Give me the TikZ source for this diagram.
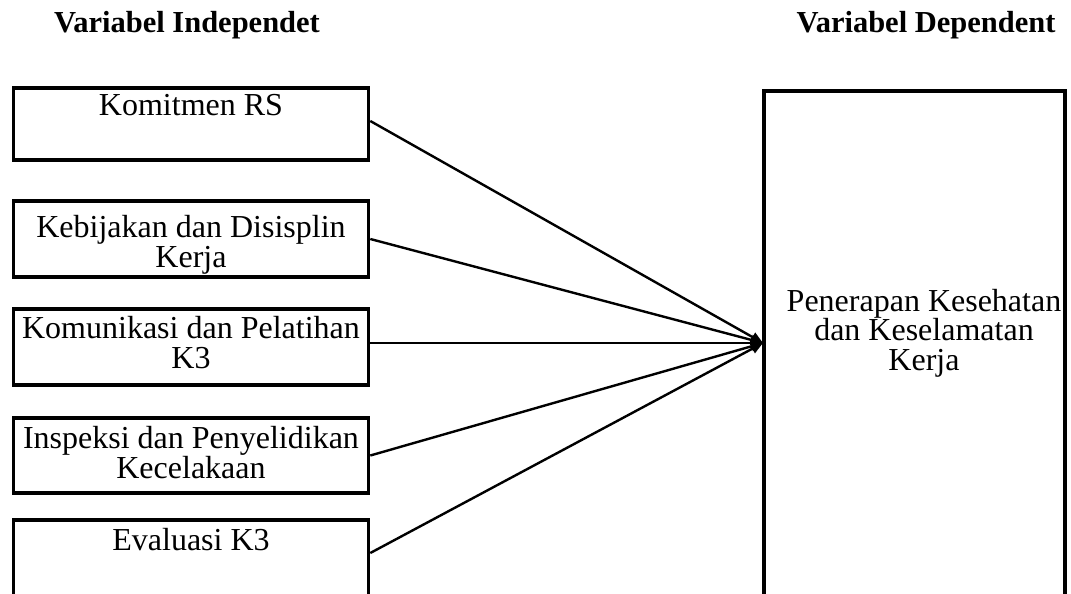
\documentclass[tikz,border=0pt]{standalone}
\usepackage{fontspec}
\setmainfont{Liberation Serif}
\usetikzlibrary{arrows.meta}
\begin{document}
\begin{tikzpicture}[x=1pt,y=1pt,
  indbox/.style={draw, line width=3.6pt, minimum width=355pt, inner sep=0pt},
  depbox/.style={draw, line width=3.8pt, minimum width=300.7pt, minimum height=560pt, inner sep=0pt},
  txt/.style={font=\fontsize{32}{29.5}\selectfont, align=center, inner sep=0pt, anchor=base},
  ttl/.style={font=\bfseries\fontsize{30.5}{30}\selectfont, inner sep=0pt, anchor=base},
  conn/.style={line width=2.4pt, -{Triangle[length=12pt,width=10pt]}}]
\useasboundingbox (0,0) rectangle (1071,-594);
% titles
\node[ttl] (tind) at (187,-33) {Variabel Independet};
\node[ttl] (tdep) at (926,-33) {Variabel Dependent};
% independent boxes
\node[indbox, minimum height=72pt] (b1) at (191,-124) {};
\node[indbox, minimum height=76pt] (b2) at (191,-239) {};
\node[indbox, minimum height=76pt] (b3) at (191,-347) {};
\node[indbox, minimum height=75pt] (b4) at (191,-455.5) {};
\node[indbox, minimum height=90pt] (b5) at (191,-565) {};
\node[txt] (l1) at (191,-115) {Komitmen RS};
\node[txt] (l2) at (191,-267) {Kebijakan dan Disisplin\\Kerja};
\node[txt] (l3) at (191,-368) {Komunikasi dan Pelatihan\\K3};
\node[txt] (l4) at (191,-478) {Inspeksi dan Penyelidikan\\Kecelakaan};
\node[txt] (l5) at (191,-550) {Evaluasi K3};
% dependent box
\node[depbox] (dep) at (914.35,-371) {};
\node[txt] (ld) at (924,-370) {Penerapan Kesehatan\\dan Keselamatan\\Kerja};
\coordinate (tip) at (763,-343);
% connectors
\draw[conn] ([yshift=3pt]b1.east) -- (tip);
\draw[conn] (b2.east) -- (tip);
\draw[conn] (b3.east |- tip) -- (tip);
\draw[conn] (b4.east) -- (tip);
\draw[conn] (b5.north east |- 0,-553) -- (tip);
\end{tikzpicture}
\end{document}
